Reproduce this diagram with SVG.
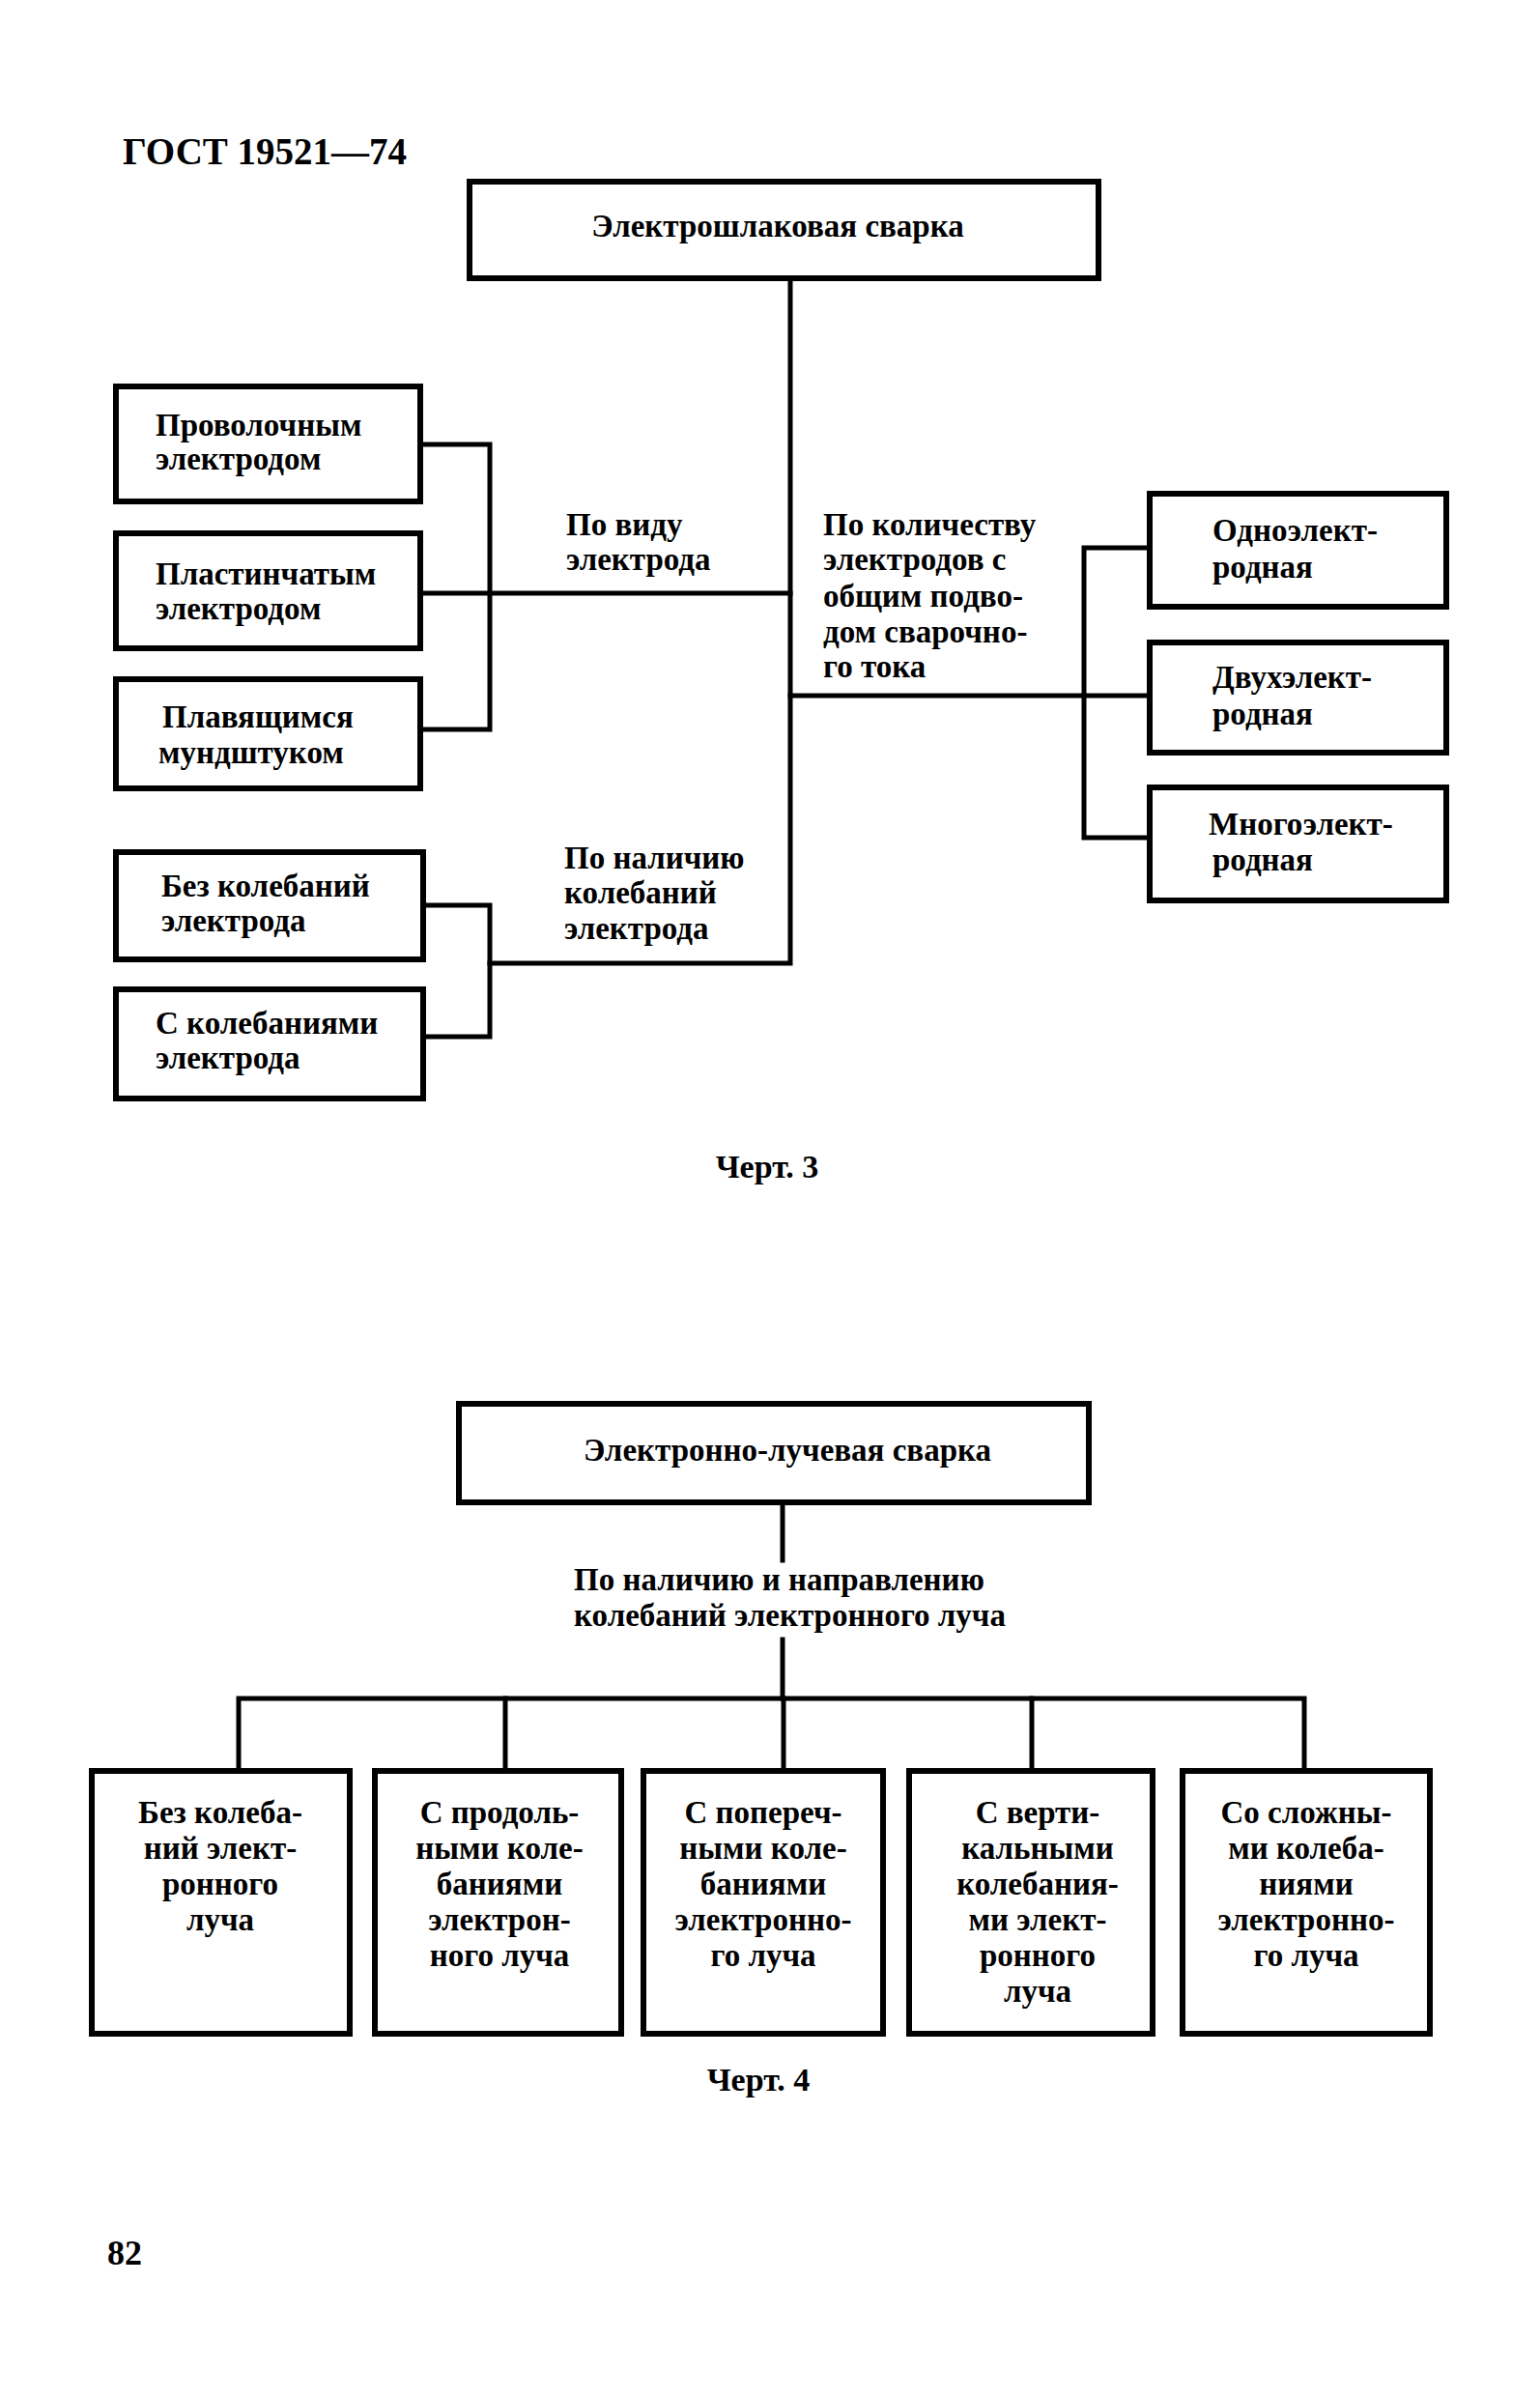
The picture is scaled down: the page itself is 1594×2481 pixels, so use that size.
<svg xmlns="http://www.w3.org/2000/svg" width="1594" height="2481" viewBox="0 0 1594 2481">
<style>
.box{fill:#fff;stroke:#000;stroke-width:6}
.ln{fill:none;stroke:#000;stroke-width:5;stroke-linecap:square}
text{font-family:"Liberation Serif","Times New Roman",serif;font-weight:bold;font-size:33px;fill:#000}
.c{text-anchor:middle}
</style>
<rect width="1594" height="2481" fill="#fff"/>
<text x="127" y="170" style="font-size:39px">ГОСТ 19521—74</text>
<g id="connectors">
<path class="ln" d="M818 288 V997 H507"/>
<path class="ln" d="M435 614 H818"/>
<path class="ln" d="M818 720 H1190"/>
<path class="ln" d="M435 460 H507 V755 H435"/>
<path class="ln" d="M438 937 H507 V1073 H438"/>
<path class="ln" d="M1190 567 H1122 V867 H1190"/>
<path class="ln" d="M810 1555 V1615"/>
<path class="ln" d="M810 1697 V1758"/>
<path class="ln" d="M247 1833 V1758 H1350 V1833"/>
<path class="ln" d="M523 1758 V1833"/>
<path class="ln" d="M811 1758 V1833"/>
<path class="ln" d="M1068 1758 V1833"/>
</g>
<g id="n-top"><rect class="box" x="486" y="188" width="651" height="100"/><text class="c" x="805" y="245">Электрошлаковая сварка</text></g>
<g id="n-wire"><rect class="box" x="120" y="400" width="315" height="119"/><text x="161" y="451">Проволочным</text><text x="161" y="486">электродом</text></g>
<g id="n-plate"><rect class="box" x="120" y="552" width="315" height="119"/><text x="161" y="605">Пластинчатым</text><text x="161" y="641">электродом</text></g>
<g id="n-nozzle"><rect class="box" x="120" y="703" width="315" height="113"/><text x="168" y="753">Плавящимся</text><text x="164" y="790">мундштуком</text></g>
<g id="n-nosc"><rect class="box" x="120" y="882" width="318" height="111"/><text x="167" y="928">Без колебаний</text><text x="167" y="964">электрода</text></g>
<g id="n-osc"><rect class="box" x="120" y="1024" width="318" height="113"/><text x="161" y="1070">С колебаниями</text><text x="161" y="1106">электрода</text></g>
<g id="n-one"><rect class="box" x="1190" y="511" width="307" height="117"/><text x="1255" y="560">Одноэлект-</text><text x="1255" y="598">родная</text></g>
<g id="n-two"><rect class="box" x="1190" y="665" width="307" height="114"/><text x="1255" y="712">Двухэлект-</text><text x="1255" y="750">родная</text></g>
<g id="n-multi"><rect class="box" x="1190" y="815" width="307" height="117"/><text x="1251" y="864">Многоэлект-</text><text x="1255" y="901">родная</text></g>
<g id="labels-top">
<text x="586" y="554">По виду</text><text x="586" y="590">электрода</text>
<text x="852" y="554">По количеству</text><text x="852" y="590">электродов с</text><text x="852" y="628">общим подво-</text><text x="852" y="665">дом сварочно-</text><text x="852" y="701">го тока</text>
<text x="584" y="899">По наличию</text><text x="584" y="935">колебаний</text><text x="584" y="972">электрода</text>
</g>
<text class="c" x="794" y="1219" style="font-size:34px">Черт. 3</text>
<g id="n-ebw"><rect class="box" x="475" y="1453" width="652" height="102"/><text class="c" x="815" y="1512">Электронно-лучевая сварка</text></g>
<g id="label-bottom"><text x="594" y="1646">По наличию и направлению</text><text x="594" y="1683">колебаний электронного луча</text></g>
<g id="n-b1"><rect class="box" x="95" y="1833" width="267" height="272"/><text class="c" x="228" y="1887">Без колеба-</text><text class="c" x="228" y="1924">ний элект-</text><text class="c" x="228" y="1961">ронного</text><text class="c" x="228" y="1998">луча</text></g>
<g id="n-b2"><rect class="box" x="388" y="1833" width="255" height="272"/><text class="c" x="517" y="1887">С продоль-</text><text class="c" x="517" y="1924">ными коле-</text><text class="c" x="517" y="1961">баниями</text><text class="c" x="517" y="1998">электрон-</text><text class="c" x="517" y="2035">ного луча</text></g>
<g id="n-b3"><rect class="box" x="666" y="1833" width="248" height="272"/><text class="c" x="790" y="1887">С попереч-</text><text class="c" x="790" y="1924">ными коле-</text><text class="c" x="790" y="1961">баниями</text><text class="c" x="790" y="1998">электронно-</text><text class="c" x="790" y="2035">го луча</text></g>
<g id="n-b4"><rect class="box" x="941" y="1833" width="252" height="272"/><text class="c" x="1074" y="1887">С верти-</text><text class="c" x="1074" y="1924">кальными</text><text class="c" x="1074" y="1961">колебания-</text><text class="c" x="1074" y="1998">ми элект-</text><text class="c" x="1074" y="2035">ронного</text><text class="c" x="1074" y="2072">луча</text></g>
<g id="n-b5"><rect class="box" x="1224" y="1833" width="256" height="272"/><text class="c" x="1352" y="1887">Со сложны-</text><text class="c" x="1352" y="1924">ми колеба-</text><text class="c" x="1352" y="1961">ниями</text><text class="c" x="1352" y="1998">электронно-</text><text class="c" x="1352" y="2035">го луча</text></g>
<text class="c" x="785" y="2164" style="font-size:34px">Черт. 4</text>
<text x="111" y="2344" style="font-size:36px">82</text>
</svg>
